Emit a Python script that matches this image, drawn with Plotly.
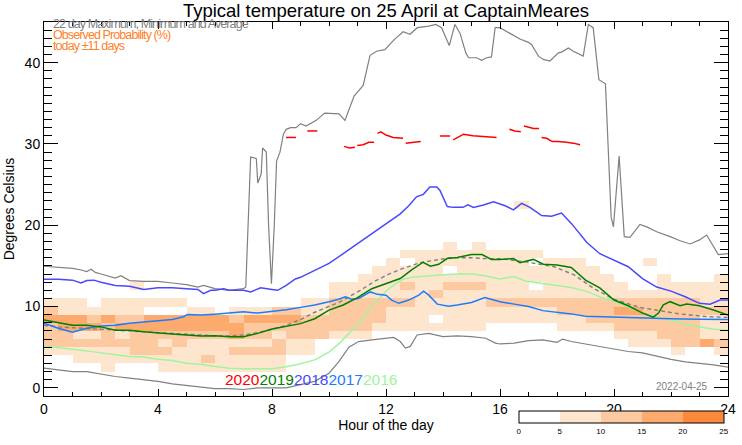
import plotly.graph_objects as go

# ---------------- data ----------------
# Observed probability grid: one string per 1 degC row (row r covers r..r+1 degC),
# one character per half-hour column (0..24 h). Character = probability band index:
# 0: <5 %, 1: 5-10 %, 2: 10-15 %, 3: 15-20 %, 4: 20-25 %
HEAT_ROWS = [
    "00000000 00000000 00000000 00000000 00000000 00000000",  # 0
    "00000000 00000000 00000000 00000000 00000000 00000000",  # 1
    "00001000 11111111 10000000 00000000 00000000 00000000",  # 2
    "00111111 11121111 10000000 00000000 00000000 00000000",  # 3
    "11111122 21111222 21100000 00000000 00000000 00001001",  # 4
    "22222222 12111111 21100000 00000000 00000000 01112232",  # 5
    "22112122 22222322 12221110 00000000 00000000 11122211",  # 6
    "23332333 33333322 22222221 11111110 00001111 22222211",  # 7
    "33323223 33333233 33222222 11101111 11111122 22222211",  # 8
    "21111110 00110111 22112222 11111111 11112222 33222222",  # 9
    "11101111 11000000 00112222 22111112 22222222 22222211",  # 10
    "00000000 00000000 00001111 11121111 11111111 11111111",  # 11
    "00000010 00000000 00001111 12112221 11011111 10011111",  # 12
    "00000000 00000000 00000011 11111111 11111111 00010001",  # 13
    "00000000 00000000 00000001 11110111 11111110 00000000",  # 14
    "00000000 00000000 00000000 10111111 11011100 00100000",  # 15
    "00000000 00000000 00000000 01111111 11100000 00000000",  # 16
    "00000000 00000000 00000000 00001010 00000000 00000000",  # 17
    "00000000 00000000 00000000 00000000 00000000 00000000",  # 18
    "00000000 00000000 00000000 00000000 00000000 00000000",  # 19
    "00000000 00000000 00000000 00000000 00000000 00000000",  # 20
    "00000000 00000000 00000000 00000000 00000000 00000000",  # 21
    "00000000 00000000 00000000 00000000 01000000 00000000",  # 22
]
BAND_PCT = [None, 7.5, 12.5, 17.5, 22.5]
COLORBAR_TICKS = [0, 5, 10, 15, 20, 25]

MAX_H = [0, 0.5, 1, 1.3, 1.5, 1.65, 1.8, 2, 2.5, 2.7, 3, 3.5, 4, 4.5, 5, 5.4, 5.6, 6, 6.5, 7,
         7.08, 7.25, 7.45, 7.5, 7.62, 7.67, 7.8, 7.88, 7.98, 8.08, 8.16, 8.28, 8.4, 8.5, 8.65,
         8.85, 9.0, 9.2, 9.55, 9.85, 10.35, 10.56, 10.88, 11.2, 11.44, 11.67, 11.96, 12.28,
         12.6, 12.84, 13.1, 13.5, 13.75, 13.95, 14.22, 14.42, 14.6, 14.8, 14.9, 15.18, 15.36,
         15.53, 15.7, 15.83, 16.0, 16.35, 16.7, 17.0, 17.11, 17.35, 17.52, 17.75, 18.05, 18.16,
         18.4, 18.57, 18.92, 19.1, 19.27, 19.47, 19.7, 19.9, 19.98, 20.18, 20.36, 20.56, 20.91,
         21.15, 21.5, 21.97, 22.32, 22.67, 23.0, 23.25, 23.49, 23.66, 24.0]
MAX_T = [14.96, 14.8, 14.7, 14.5, 14.3, 14.6, 14.2, 14.0, 13.5, 13.8, 13.2, 13.1, 13.1, 12.9,
         12.7, 12.4, 12.6, 12.2, 12.0, 12.2, 12.4, 28.4, 28.2, 25.2, 26.3, 29.5, 29.0, 20.0,
         12.8, 20.0, 27.9, 29.0, 31.2, 31.8, 32.0, 32.0, 32.5, 32.2, 32.9, 33.8, 33.7, 32.9,
         35.9, 37.2, 40.9, 41.4, 41.6, 42.8, 43.8, 43.5, 44.3, 44.5, 44.7, 44.3, 42.1, 44.7,
         43.6, 41.2, 40.6, 40.6, 40.3, 40.6, 40.7, 44.3, 44.3, 43.6, 42.9, 42.5, 42.2, 40.8,
         40.4, 40.2, 41.2, 41.3, 41.8, 41.4, 40.8, 44.7, 44.3, 37.9, 37.4, 21.0, 19.8, 28.5,
         18.6, 18.5, 20.1, 19.8, 19.2, 18.6, 18.1, 17.7, 18.2, 18.8, 17.3, 16.4, 16.5]

MIN_H = [0, 0.5, 1, 1.5, 2, 2.5, 3, 3.5, 4, 4.5, 5, 5.5, 6, 6.5, 7, 7.5, 8, 8.5, 9, 9.5, 10,
         10.34, 10.7, 11.04, 11.5, 12.0, 12.27, 12.5, 12.68, 12.85, 13.09, 13.5, 14.0, 14.5,
         15.0, 15.5, 15.84, 16.0, 16.5, 17.0, 17.5, 18.0, 18.2, 18.5, 19.0, 19.5, 20.0, 20.5,
         21.0, 21.5, 22.0, 22.5, 23.0, 23.5, 24.0]
MIN_T = [2.42, 2.17, 2.0, 2.0, 1.7, 1.4, 1.2, 1.0, 0.8, 0.5, 0.3, 0.1, -0.1, -0.1, -0.2, 0.0,
         0.0, 0.0, 0.4, 0.8, 1.8, 3.2, 5.0, 5.7, 5.9, 6.1, 6.2, 5.7, 4.9, 5.1, 6.5, 6.7, 6.3,
         6.4, 6.3, 6.1, 5.5, 5.4, 5.5, 5.8, 5.9, 5.6, 6.0, 5.7, 5.4, 5.1, 4.75, 4.47, 4.3, 3.9,
         3.5, 3.2, 3.03, 2.83, 2.55]

AVG_H = [0, 0.5, 1, 1.5, 2, 2.5, 3, 3.5, 4, 4.5, 5, 5.5, 6, 6.5, 7, 7.5, 8, 8.5, 9, 9.5, 10,
         10.4, 11.1, 11.6, 12.1, 12.6, 13.2, 13.7, 14.25, 15.0, 15.5, 16.0, 16.9, 17.9, 18.6,
         19.3, 20.0, 20.9, 21.6, 22.3, 23.3, 24.0]
AVG_T = [7.7, 7.5, 7.4, 7.3, 7.2, 7.1, 7.0, 6.9, 6.8, 6.7, 6.6, 6.5, 6.4, 6.4, 6.5, 6.8, 7.2,
         7.7, 8.4, 9.3, 10.0, 10.6, 12.0, 13.1, 14.0, 14.7, 15.4, 15.7, 16.0, 16.0, 15.9, 15.9,
         15.5, 14.9, 13.9, 12.2, 10.9, 9.9, 9.5, 9.1, 8.75, 8.67]

Y2019_H = [0, 0.5, 1, 1.5, 2, 2.5, 3, 3.5, 4, 4.5, 5, 5.5, 6, 6.5, 7, 7.5, 8, 8.5, 9, 9.5, 10,
           10.5, 11.0, 11.5, 12.0, 12.5, 12.9, 13.3, 13.56, 13.85, 14.14, 14.5, 15.0, 15.37,
           15.7, 16.0, 16.47, 16.7, 17.17, 17.52, 18.0, 18.5, 19.0, 19.5, 20.0, 20.5, 21.0,
           21.38, 21.56, 21.73, 21.97, 22.32, 22.55, 23.0, 23.49, 23.84, 24.0]
Y2019_T = [8.35, 8.0, 7.7, 7.7, 7.5, 7.1, 7.1, 6.9, 6.8, 6.63, 6.5, 6.38, 6.4, 6.3, 6.3, 6.7,
           7.25, 7.6, 7.9, 8.5, 9.57, 10.2, 11.1, 12.2, 12.84, 13.45, 14.5, 15.45, 14.97, 15.2,
           15.9, 16.03, 16.4, 16.4, 15.8, 15.8, 15.9, 15.4, 15.8, 15.2, 15.1, 14.8, 13.25,
           12.3, 10.8, 10.1, 9.2, 8.7, 9.2, 10.2, 10.6, 10.1, 10.3, 10.1, 9.57, 9.1, 8.95]

Y2018_H = [0, 0.5, 1.0, 1.3, 1.5, 1.75, 2.0, 2.5, 3.0, 3.5, 4.0, 4.5, 5.0, 5.4, 5.6, 5.85, 6.0,
           6.3, 6.5, 7.0, 7.25, 7.6, 8.0, 8.2, 8.5, 8.82, 9.0, 9.5, 10.0, 10.5, 11.0, 11.5, 12.0,
           12.5, 12.8, 13.07, 13.31, 13.54, 13.78, 13.89, 14.15, 14.36, 14.7, 14.87, 15.07,
           15.42, 15.77, 16.18, 16.47, 16.76, 17.05, 17.46, 17.81, 18.16, 18.51, 18.8, 19.04,
           19.5, 20.0, 20.5, 21.0, 21.5, 22.0, 22.5, 23.0, 23.37, 23.72, 24.0]
Y2018_T = [13.37, 13.37, 13.25, 12.9, 13.2, 13.25, 13.0, 12.6, 12.5, 12.1, 12.3, 12.3, 12.2,
           12.1, 11.6, 12.0, 12.0, 12.2, 12.0, 12.0, 11.8, 12.3, 12.1, 12.0, 12.6, 13.4, 13.6,
           14.5, 15.3, 16.5, 17.7, 19.0, 20.2, 21.4, 22.4, 23.5, 23.8, 24.7, 24.7, 24.3, 22.3,
           22.2, 22.2, 22.5, 22.2, 22.5, 22.9, 22.4, 21.9, 22.7, 22.2, 21.2, 21.1, 21.5, 20.2,
           19.0, 17.9, 16.5, 15.7, 14.9, 13.45, 12.4, 11.9, 11.2, 10.4, 10.3, 10.8, 10.8]

Y2017_H = [0, 0.5, 1.0, 1.5, 2.0, 2.5, 3.0, 3.5, 4.0, 4.5, 4.9, 5.03, 5.5, 6.0, 6.5, 7.0, 7.5,
           8.0, 8.5, 9.0, 9.5, 10.0, 10.34, 10.57, 10.8, 11.04, 11.45, 11.7, 12.0, 12.2, 12.45,
           12.8, 13.15, 13.32, 13.5, 13.8, 14.2, 14.5, 15.0, 15.47, 15.84, 16.0, 16.5, 17.0,
           17.5, 18.0, 18.5, 19.0, 20.0, 21.0, 22.0, 23.0, 24.0]
Y2017_T = [7.94, 7.33, 6.84, 7.33, 7.6, 7.7, 7.94, 8.06, 8.26, 8.4, 8.75, 9.03, 8.95, 9.07,
           9.2, 9.36, 9.2, 9.36, 9.6, 9.9, 10.2, 10.6, 10.9, 11.2, 10.9, 11.0, 11.8, 11.5, 11.4,
           10.8, 10.4, 10.8, 11.4, 11.9, 11.4, 10.3, 10.05, 10.2, 10.5, 11.1, 10.7, 10.6, 10.3,
           10.0, 9.5, 9.3, 9.1, 8.8, 8.67, 8.55, 8.5, 8.43, 8.4]

Y2016_H = [0, 0.5, 1.0, 1.5, 2.0, 2.5, 3.0, 3.5, 4.0, 4.5, 5.0, 5.5, 6.0, 6.5, 7.0, 7.5, 8.0,
           8.5, 9.0, 9.5, 10.0, 10.4, 11.1, 11.56, 12.03, 12.33, 12.6, 13.0, 13.5, 14.0, 14.5,
           15.07, 15.5, 16.0, 16.47, 16.93, 17.5, 18.0, 18.5, 19.0, 19.5, 20.0, 20.5, 21.0,
           21.5, 22.0, 22.5, 23.0, 23.5, 24.0]
Y2016_T = [5.16, 5.0, 4.75, 4.55, 4.27, 4.06, 3.85, 3.8, 3.52, 3.36, 3.04, 2.9, 2.63, 2.42,
           2.35, 2.35, 2.35, 2.6, 2.96, 3.44, 4.4, 5.6, 8.2, 10.3, 12.0, 12.8, 13.35, 13.65, 13.8,
           13.9, 14.0, 14.0, 13.75, 13.4, 13.7, 13.1, 12.85, 12.6, 12.35, 11.9, 11.2, 10.7,
           10.0, 9.2, 8.7, 8.3, 7.8, 7.5, 7.2, 7.1]

# 2020: only partial records (gaps = None)
Y2020_H = [8.49, 8.84, None, 9.24, 9.59, None, 10.53, 10.72, 10.91, None, 10.99, 11.2, 11.4,
           11.58, None, 11.7, 11.82, 12.0, 12.25, 12.6, None, 12.69, 12.9, 13.22, None, 13.89,
           14.25, None, 14.36, 14.52, 14.72, 15.05, 15.4, 15.88, None, 16.33, 16.52, 16.73,
           None, 16.84, 17.0, 17.18, 17.37, None, 17.46, 17.64, 17.83, 18.04, 18.33, 18.57,
           18.81]
Y2020_T = [30.8, 30.8, None, 31.6, 31.6, None, 29.7, 29.5, 29.6, None, 29.8, 29.9, 30.2, 30.2,
           None, 31.3, 31.5, 31.1, 30.8, 30.7, None, 30.1, 30.2, 30.3, None, 30.98, 30.98, None,
           30.5, 30.8, 31.2, 31.0, 30.9, 30.8, None, 31.8, 31.6, 31.5, None, 32.2, 32.1, 31.9,
           31.9, None, 30.8, 30.7, 30.3, 30.3, 30.2, 30.1, 29.9]

YEARS = ["2020", "2019", "2018", "2017", "2016"]
YEAR_COLORS = ["#ff0000", "#007f00", "#4848ff", "#1a7cff", "#9ef59e"]
X_TICKS = [0, 4, 8, 12, 16, 20, 24]
Y_TICKS = [0, 10, 20, 30, 40]

TITLE = "Typical temperature on 25 April at CaptainMeares"
DATE_LABEL = "2022-04-25"

# ---------------- figure ----------------
z = [[BAND_PCT[int(ch)] for ch in row.replace(" ", "")] for row in HEAT_ROWS]

OR1, OR2, OR3, OR4 = "#fee6ce", "#fdc9a0", "#fdaa6e", "#fd8a3c"
cscale = [[0.0, "#ffffff"], [0.2, "#ffffff"], [0.2, OR1], [0.4, OR1], [0.4, OR2], [0.6, OR2],
          [0.6, OR3], [0.8, OR3], [0.8, OR4], [1.0, OR4]]

fig = go.Figure()
fig.add_trace(go.Heatmap(
    z=z, x0=0.25, dx=0.5, y0=0.5, dy=1, zmin=0, zmax=25, colorscale=cscale,
    hoverongaps=False,
    colorbar=dict(orientation="h", x=0.694, xanchor="left", y=-0.040, yanchor="top",
                  len=0.300, lenmode="fraction", thickness=12, thicknessmode="pixels",
                  outlinewidth=1, outlinecolor="black", tickvals=COLORBAR_TICKS,
                  ticks="", ticklen=0,
                  tickfont=dict(size=8, color="black", family="Liberation Sans"),
                  xpad=0, ypad=0),
))

GRAY = "#808080"
fig.add_trace(go.Scatter(x=MAX_H, y=MAX_T, mode="lines", line=dict(color=GRAY, width=1.2)))
fig.add_trace(go.Scatter(x=MIN_H, y=MIN_T, mode="lines", line=dict(color=GRAY, width=1.2)))
fig.add_trace(go.Scatter(x=AVG_H, y=AVG_T, mode="lines",
                         line=dict(color=GRAY, width=1.4, dash="4px,3px")))
series = [(Y2016_H, Y2016_T, YEAR_COLORS[4]), (Y2017_H, Y2017_T, YEAR_COLORS[3]),
          (Y2018_H, Y2018_T, YEAR_COLORS[2]), (Y2019_H, Y2019_T, YEAR_COLORS[1]),
          (Y2020_H, Y2020_T, YEAR_COLORS[0])]
for hx, ty, col in series:
    fig.add_trace(go.Scatter(x=hx, y=ty, mode="lines", connectgaps=False,
                             line=dict(color=col, width=1.5)))

FONT = "Liberation Sans, Arial, Helvetica, sans-serif"

axis_common = dict(showline=True, linecolor="black", linewidth=1, mirror="allticks",
                   ticks="inside", tickcolor="black", showgrid=False, zeroline=False,
                   automargin=False,
                   tickfont=dict(size=14, color="black", family=FONT))
fig.update_xaxes(range=[0, 24], tickvals=X_TICKS, ticklen=7,
                 minor=dict(dtick=1, ticklen=4, ticks="inside", tickcolor="black"),
                 title=dict(text="Hour of the day", font=dict(size=14, color="black", family=FONT),
                            standoff=4),
                 **axis_common)
fig.update_yaxes(range=[-1, 45], tickvals=Y_TICKS, ticklen=14,
                 minor=dict(dtick=1, ticklen=8, ticks="inside", tickcolor="black"),
                 title=dict(text="Degrees Celsius", font=dict(size=14, color="black", family=FONT),
                            standoff=6),
                 **axis_common)

CRAMP = "letter-spacing:-0.9px"
year_text = "".join(f"<span style='color:{c}'>{y}</span>" for y, c in zip(YEARS, YEAR_COLORS))
annotations = [
    dict(text=f"<span style='{CRAMP}'>22 day Maximum, Minimum and Average</span>",
         x=0.0102, y=0.995, xref="paper", yref="paper",
         xanchor="left", yanchor="middle", showarrow=False,
         font=dict(size=12.5, color=GRAY, family=FONT)),
    dict(text=f"<span style='{CRAMP}'>Observed Probability (%)</span>",
         x=0.0102, y=0.966, xref="paper", yref="paper",
         xanchor="left", yanchor="middle", showarrow=False,
         font=dict(size=12.5, color="#ff7f2a", family=FONT)),
    dict(text=f"<span style='{CRAMP}'>today ±11 days</span>",
         x=0.0102, y=0.936, xref="paper", yref="paper",
         xanchor="left", yanchor="middle", showarrow=False,
         font=dict(size=12.5, color="#ff7f2a", family=FONT)),
    dict(text=year_text, x=0.2613, y=0.043, xref="paper", yref="paper",
         xanchor="left", yanchor="middle", showarrow=False,
         font=dict(size=15.5, family=FONT)),
    dict(text=DATE_LABEL, x=0.9737, y=0.025, xref="paper", yref="paper",
         xanchor="right", yanchor="middle", showarrow=False,
         font=dict(size=10, color=GRAY, family=FONT)),
]

fig.update_layout(
    template="none",
    width=742, height=445, autosize=False,
    margin=dict(l=44, r=14, t=22, b=49, pad=0),
    paper_bgcolor="white", plot_bgcolor="white",
    showlegend=False,
    title=dict(text=TITLE, x=0.5, xref="paper", y=0.9775, yanchor="middle",
               font=dict(size=18.5, color="black", family=FONT)),
    annotations=annotations,
)

# remove the browser's default 8 px body margin so the figure sits at the page origin
fig.write_html("out.html", config={"displayModeBar": False},
               post_script="document.body.style.margin='0px';")
